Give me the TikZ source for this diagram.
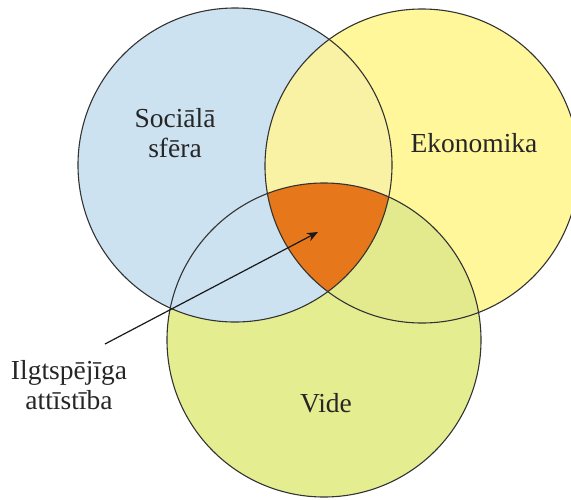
\documentclass[tikz,border=0pt]{standalone}
\usepackage{fontspec}
\setmainfont{Liberation Serif}
\newfontfamily\timesfont{Liberation Serif}
\usetikzlibrary{arrows.meta}
\definecolor{cblue}{HTML}{CDE2F0}
\definecolor{cyellow}{HTML}{FFF79A}
\definecolor{cby}{HTML}{F9F1A4}
\definecolor{cgreen}{HTML}{E5ED91}
\definecolor{cgy}{HTML}{E3EA8D}
\definecolor{corange}{HTML}{E6771A}
\definecolor{cline}{HTML}{333333}
\tikzset{
  ring/.style={draw=cline, line width=1.1pt},
  lbl/.style={font=\timesfont\fontsize{27.5}{31}\selectfont, text=black!85, align=center, inner sep=0pt},
  pointer/.style={draw=black!90, line width=1.2pt, -{Stealth[length=11pt,width=9pt]}}
}
\begin{document}
\begin{tikzpicture}[x=1pt,y=-1pt]
\useasboundingbox (0,0) rectangle (571,499);
\clip (0,0) rectangle (571,499);
\coordinate (cb) at (235,165);
\coordinate (cy) at (422,166);
\coordinate (cg) at (324,340);
\def\R{157pt}
% base fills
\fill[cblue] (cb) circle[radius=\R];
\fill[cyellow] (cy) circle[radius=\R];
\fill[cgreen] (cg) circle[radius=\R];
% pairwise overlaps
\begin{scope}
  \clip (cb) circle[radius=\R];
  \fill[cby] (cy) circle[radius=\R];
  \fill[cblue] (cg) circle[radius=\R];
\end{scope}
\begin{scope}
  \clip (cy) circle[radius=\R];
  \fill[cgy] (cg) circle[radius=\R];
\end{scope}
% triple overlap
\begin{scope}
  \clip (cb) circle[radius=\R];
  \clip (cy) circle[radius=\R];
  \fill[corange] (cg) circle[radius=\R];
\end{scope}
% outlines
\draw[ring] (cb) circle[radius=\R];
\draw[ring] (cy) circle[radius=\R];
\draw[ring] (cg) circle[radius=\R];
% labels
\node[lbl] (soc) at (175,133) {Sociālā\\[-1pt]sfēra};
\node[lbl] (eko) at (474,143) {Ekonomika};
\node[lbl] (vide) at (326,403) {Vide};
\node[lbl] (ilg) at (69,385) {Ilgtspējīga\\[-1pt]attīstība};
% arrow
\coordinate (tail) at (105,344);
\coordinate (tip) at (318,232);
\draw[pointer] (tail) -- (tip);
\end{tikzpicture}
\end{document}
